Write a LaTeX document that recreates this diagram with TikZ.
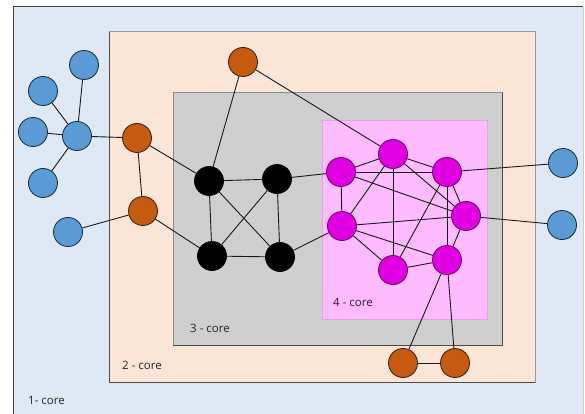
\documentclass[tikz,border=0pt]{standalone}
\usepackage{fontspec}
\setmainfont{Open Sans}
\pgfdeclarelayer{frames}
\pgfdeclarelayer{links}
\pgfsetlayers{frames,links,main}
\definecolor{coreone}{HTML}{DEE9F5}
\definecolor{coretwo}{HTML}{FBE5D7}
\definecolor{corethree}{HTML}{D0CFD0}
\definecolor{corefour}{HTML}{FFBBFF}
\definecolor{bluenode}{HTML}{5B9BD5}
\definecolor{orangenode}{HTML}{C55A11}
\definecolor{magnode}{HTML}{E100E1}
\begin{document}
\begin{tikzpicture}[x=1pt,y=-1pt,
  vtx/.style={circle,minimum size=29pt,inner sep=0pt,line width=0.8pt},
  bluev/.style={vtx,fill=bluenode,draw=black!75!bluenode},
  orangev/.style={vtx,fill=orangenode,draw=black!70!orangenode},
  magv/.style={vtx,fill=magnode,draw=black!55!magnode},
  blackv/.style={vtx,fill=black,draw=black},
  link/.style={draw=black!90,line width=0.9pt},
  corelabel/.style={font=\fontsize{11.5}{13}\selectfont,text=black!85,anchor=west,inner sep=0pt}]
\useasboundingbox (0,0) rectangle (585,414);

% nested core frames
\begin{pgfonlayer}{frames}
  \fill[white] (0,0) rectangle (585,414);
  \fill[coreone] (13,7) rectangle (583,420);
  \draw[black!75,line width=1pt] (13,420) -- (13,7) -- (583,7);
  \draw[black!20,line width=1pt] (583,7) -- (583,420);
  \filldraw[fill=coretwo,draw=black!40,line width=1pt] (109,32) rectangle (535,382);
  \draw[black!70,line width=0.8pt] (109,32) -- (109,382) -- (535,382);
  \filldraw[fill=corethree,draw=black!45,line width=1pt] (173,93) rectangle (502,345);
  \draw[black!70,line width=1pt] (173,345) -- (502,345) -- (502,93);
  \filldraw[fill=corefour,draw=corefour!70!gray,line width=1pt] (322,121) rectangle (487,319);
\end{pgfonlayer}

\node[corelabel] (l1) at (28,400) {1- core};
\node[corelabel] (l2) at (122,365) {2 - core};
\node[corelabel] (l3) at (190,328) {3 - core};
\node[corelabel] (l4) at (333,302) {4 - core};

% 1-core (blue)
\node[bluev] (hub) at (77,136) {};
\node[bluev] (bt)  at (84,65) {};
\node[bluev] (bul) at (43,91) {};
\node[bluev] (bl)  at (33,132) {};
\node[bluev] (bll) at (43,183) {};
\node[bluev] (blo) at (68,232) {};
\node[bluev] (brt) at (563,163) {};
\node[bluev] (brb) at (562,225) {};

% 2-core (orange)
\node[orangev] (o1) at (243,62) {};
\node[orangev] (o2) at (137,138) {};
\node[orangev] (o3) at (143,211) {};
\node[orangev] (o4) at (403,363) {};
\node[orangev] (o5) at (455,363) {};

% 3-core (black)
\node[blackv] (b1) at (209,181) {};
\node[blackv] (b2) at (277,179) {};
\node[blackv] (b3) at (212,256) {};
\node[blackv] (b4) at (280,257) {};

% 4-core (magenta)
\node[magv] (m1) at (393,154) {};
\node[magv] (m2) at (341,172) {};
\node[magv] (m3) at (447,172) {};
\node[magv] (m4) at (466,216) {};
\node[magv] (m5) at (342,226) {};
\node[magv] (m6) at (393,270) {};
\node[magv] (m7) at (447,260) {};

\begin{pgfonlayer}{links}
  % blue star and its ties
  \foreach \a/\b in {hub/bt,hub/bul,hub/bl,hub/bll,hub/o2,blo/o3,brt/m3,brb/m4}
    \draw[link] (\a) -- (\b);
  % orange ties
  \foreach \a/\b in {o1/b1,o1/m1,o2/b1,o2/o3,o3/b3,o4/o5,o4/m7,o5/m7}
    \draw[link] (\a) -- (\b);
  % black clique
  \foreach \a/\b in {b1/b2,b1/b3,b1/b4,b2/b3,b2/b4,b3/b4,b2/m2,b4/m5}
    \draw[link] (\a) -- (\b);
  % magenta mesh
  \foreach \a/\b in {m1/m2,m1/m3,m1/m4,m1/m5,m1/m6,m2/m3,m2/m4,m2/m5,
                     m3/m4,m3/m6,m3/m7,m4/m5,m4/m7,m5/m6,m5/m7,m6/m7}
    \draw[link] (\a) -- (\b);
\end{pgfonlayer}
\end{tikzpicture}
\end{document}
